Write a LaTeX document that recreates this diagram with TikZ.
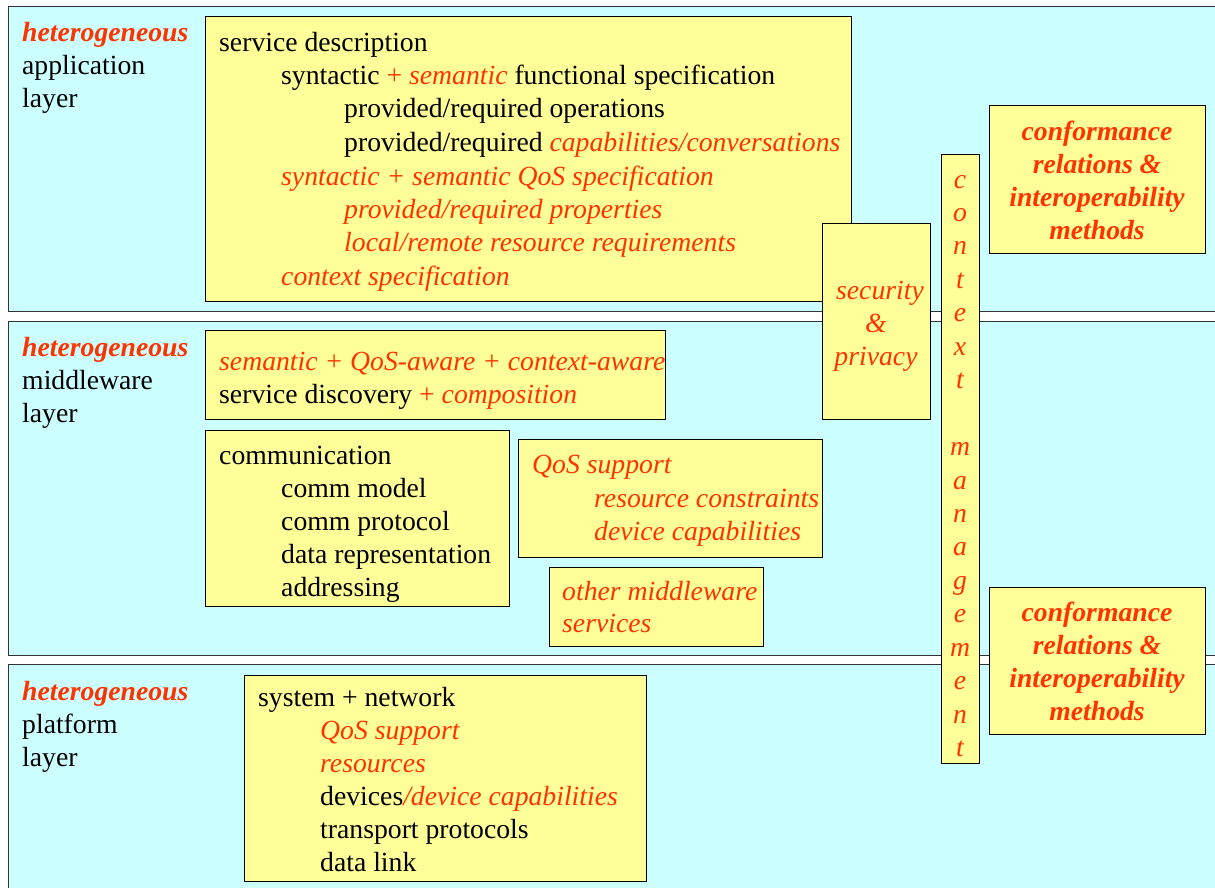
\documentclass[tikz,border=0pt]{standalone}
\usepackage{fontspec}
\setmainfont{Liberation Serif}
\definecolor{layerfill}{HTML}{CCFFFF}
\definecolor{boxfill}{HTML}{FFFF99}
\definecolor{hl}{HTML}{FF3300}
\newcommand{\hi}[1]{\textcolor{hl}{\itshape #1}}
\newcommand{\hb}[1]{\textcolor{hl}{\bfseries\itshape #1}}
\tikzset{
  layer/.style={draw=black!80, fill=layerfill, line width=1pt},
  box/.style={draw=black, fill=boxfill, line width=1pt},
  txt/.style={anchor=base west, inner sep=0pt, font=\fontsize{27.7}{33}\selectfont},
  ctr/.style={anchor=base, inner sep=0pt, font=\fontsize{27.7}{33}\selectfont},
}
\begin{document}
\begin{tikzpicture}[x=1pt, y=-1pt]
\useasboundingbox (0,0) rectangle (1215,888);
\clip (0,0) rectangle (1215,888);
\fill[white] (0,0) rectangle (1215,888);

% three layers
\path[layer] (8,7) rectangle (1225,311);
\path[layer] (8,321) rectangle (1225,655);
\path[layer] (8,664) rectangle (1225,900);

% layer names
\node[txt] (app1) at (22,42) {\hb{heterogeneous}};
\node[txt] (app2) at (22,75) {application};
\node[txt] (app3) at (22,108) {layer};
\node[txt] (mid1) at (22,356) {\hb{heterogeneous}};
\node[txt] (mid2) at (22,389) {middleware};
\node[txt] (mid3) at (22,422) {layer};
\node[txt] (plt1) at (22,700) {\hb{heterogeneous}};
\node[txt] (plt2) at (22,733) {platform};
\node[txt] (plt3) at (22,766) {layer};

% service description
\path[box] (205,17) rectangle (851,301);
\node[txt] (sd1) at (219,52) {service description};
\node[txt] (sd2) at (281,85) {syntactic \textcolor{hl}{+ \itshape semantic} functional specification};
\node[txt] (sd3) at (344,118) {provided/required operations};
\node[txt] (sd4) at (344,151) {provided/required \hi{capabilities/conversations}};
\node[txt] (sd5) at (281,185) {\hi{syntactic + semantic QoS specification}};
\node[txt] (sd6) at (344,218) {\hi{provided/required properties}};
\node[txt] (sd7) at (344,251) {\hi{local/remote resource requirements}};
\node[txt] (sd8) at (281,285) {\hi{context specification}};

% security & privacy
\path[box] (822,223) rectangle (930,419);
\node[ctr] (sp1) at (880,299) {\hi{security}};
\node[ctr] (sp2) at (876,332) {\hi{\&}};
\node[ctr] (sp3) at (876,365) {\hi{privacy}};

% context management
\path[box] (941,154) rectangle (979,763);
\foreach \ch [count=\i from 0] in {c,o,n,t,e,x,t,{},m,a,n,a,g,e,m,e,n,t}
  \node[ctr] (cm\i) at (960,188+33.45*\i) {\hi{\ch}};

% conformance relations
\path[box] (989,106) rectangle (1205,253);
\node[ctr] (cf1) at (1097,140) {\hb{conformance}};
\node[ctr] (cf2) at (1097,173) {\hb{relations \&}};
\node[ctr] (cf3) at (1097,206) {\hb{interoperability}};
\node[ctr] (cf4) at (1097,239) {\hb{methods}};

\path[box] (989,587) rectangle (1205,734);
\node[ctr] (cg1) at (1097,621) {\hb{conformance}};
\node[ctr] (cg2) at (1097,654) {\hb{relations \&}};
\node[ctr] (cg3) at (1097,687) {\hb{interoperability}};
\node[ctr] (cg4) at (1097,720) {\hb{methods}};

% middleware boxes
\path[box] (205,330) rectangle (665,419);
\node[txt] (dc1) at (219,370) {\hi{semantic + QoS-aware + context-aware}};
\node[txt] (dc2) at (219,403) {service discovery \textcolor{hl}{+ \itshape composition}};

\path[box] (205,430) rectangle (509,606);
\node[txt] (cm1) at (219,464) {communication};
\node[txt] (cm2) at (281,497) {comm model};
\node[txt] (cm3) at (281,530) {comm protocol};
\node[txt] (cm4) at (281,563) {data representation};
\node[txt] (cm5) at (281,596) {addressing};

\path[box] (518,439) rectangle (822,557);
\node[txt] (qs1) at (532,473) {\hi{QoS support}};
\node[txt] (qs2) at (594,507) {\hi{resource constraints}};
\node[txt] (qs3) at (594,540) {\hi{device capabilities}};

\path[box] (549,567) rectangle (763,646);
\node[txt] (om1) at (562,600) {\hi{other middleware}};
\node[txt] (om2) at (562,632) {\hi{services}};

% platform box
\path[box] (244,675) rectangle (646,881);
\node[txt] (sn1) at (258,706) {system + network};
\node[txt] (sn2) at (320,739) {\hi{QoS support}};
\node[txt] (sn3) at (320,772) {\hi{resources}};
\node[txt] (sn4) at (320,805) {devices\hi{/device capabilities}};
\node[txt] (sn5) at (320,838) {transport protocols};
\node[txt] (sn6) at (320,871) {data link};
\end{tikzpicture}
\end{document}
